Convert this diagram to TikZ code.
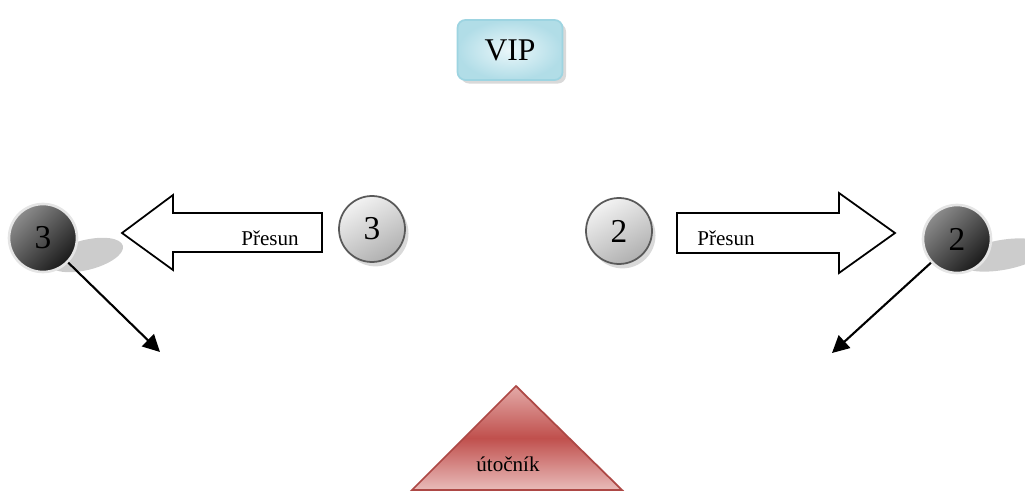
\documentclass[tikz,border=0pt]{standalone}
\usepackage{fontspec}
\setmainfont{Liberation Serif}
\usetikzlibrary{arrows.meta,shadows}

\definecolor{vipfill}{HTML}{EAF7FA}
\definecolor{vipedge}{HTML}{9DD4E1}
\definecolor{attack}{HTML}{C0504D}
\definecolor{attacklight}{HTML}{E3AAA8}
\definecolor{spotgray}{HTML}{CCCCCC}

\tikzset{
  vipbox/.style={rectangle, rounded corners=4.5pt, draw=vipedge, line width=1pt,
    inner color=vipfill, outer color=vipedge!80, minimum width=2.1cm, minimum height=1.2cm,
    font=\fontsize{18}{20}\selectfont,
    drop shadow={shadow xshift=2pt, shadow yshift=-2pt, opacity=0.3}},
  lightball/.style={circle, draw=black!65, line width=1pt, minimum size=1.32cm,
    top color=gray!10, bottom color=gray!62, shading angle=30,
    font=\fontsize{19}{21}\selectfont,
    drop shadow={shadow xshift=2pt, shadow yshift=-2.5pt, opacity=0.3}},
  darkball/.style={circle, draw=white!90!black, line width=1.5pt, minimum size=1.36cm,
    top color=black!45, bottom color=black!90, shading angle=45,
    font=\fontsize{19}{21}\selectfont},
  blockarrow/.style={draw=black, line width=1pt, fill=white},
  movetext/.style={font=\fontsize{12}{14}\selectfont},
  pointer/.style={-{Triangle[length=3.4mm,width=3.4mm]}, line width=1.2pt}
}

\begin{document}
\begin{tikzpicture}[x=0.02cm,y=-0.02cm]
  \useasboundingbox (0,0) rectangle (1025,493);
  \clip (0,0) rectangle (1025,493);

  \node[vipbox] (vip) at (510,50) {VIP};

  \fill[spotgray, rotate around={14:(86,255)}] (86,255) ellipse [x radius=38, y radius=15];
  \fill[spotgray, rotate around={10:(1002,255)}] (1002,255) ellipse [x radius=44, y radius=15];

  \draw[blockarrow] (322,213) -- (173,213) -- (173,195) -- (122,233) -- (173,270) -- (173,252) -- (322,252) -- cycle;
  \draw[blockarrow] (677,213) -- (839,213) -- (839,193) -- (895,233) -- (839,273) -- (839,253) -- (677,253) -- cycle;
  \node[movetext] (move3) at (270,238) {Přesun};
  \node[movetext] (move2) at (726,238) {Přesun};

  \node[darkball] (c3l) at (43,238) {3};
  \node[lightball] (c3m) at (372,229) {3};
  \node[lightball] (c2m) at (619,231) {2};
  \node[darkball] (c2r) at (957,239) {2};

  \coordinate (lend) at (160,352);
  \coordinate (rend) at (832,353);
  \draw[pointer] (c3l) -- (lend);
  \draw[pointer] (c2r) -- (rend);

  \draw[attack!90!black, line width=1pt, top color=attacklight, bottom color=attacklight!80, middle color=attack]
    (412,490) -- (516,386) -- (622,490) -- cycle;
  \node[movetext] (utocnik) at (508,464) {útočník};
\end{tikzpicture}
\end{document}
